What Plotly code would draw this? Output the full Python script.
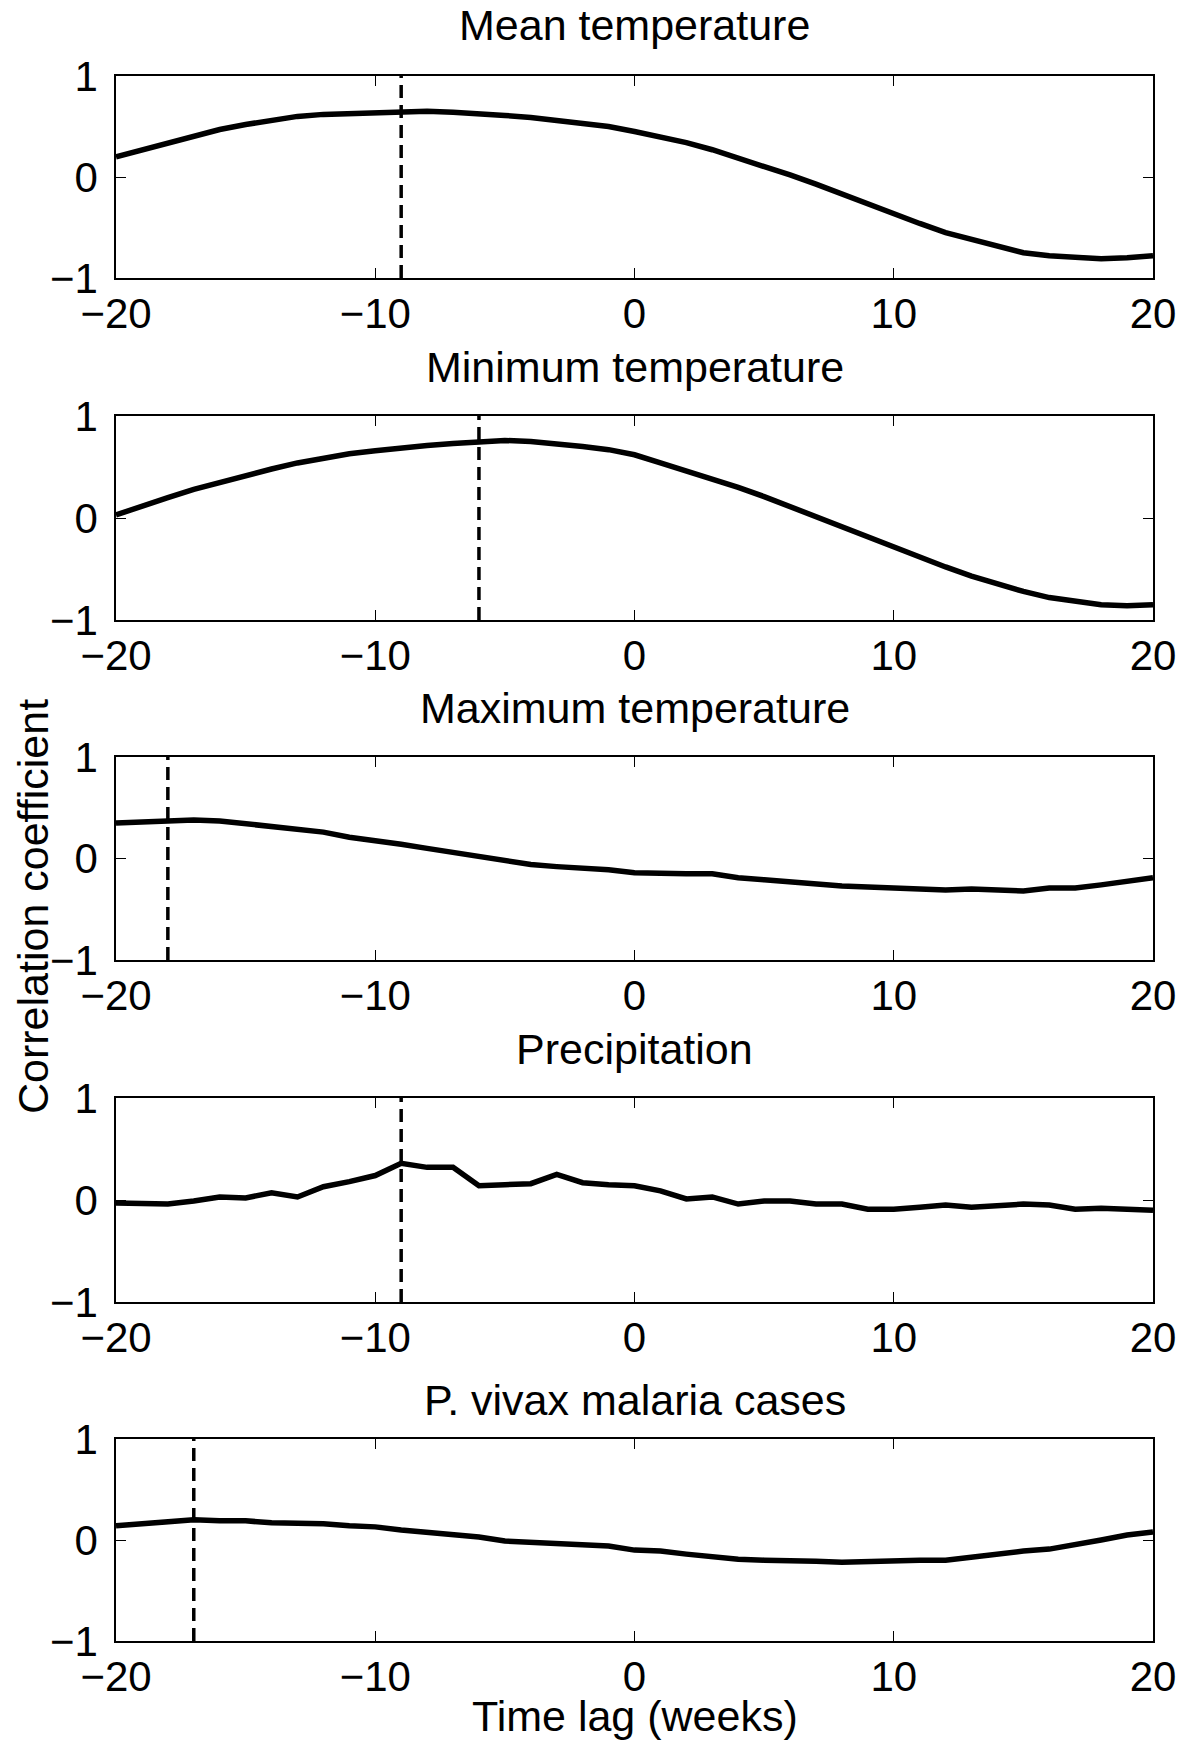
import plotly.graph_objects as go

lags = list(range(-20, 21))

titles = ["Mean temperature", "Minimum temperature", "Maximum temperature",
          "Precipitation", "P. vivax malaria cases"]

mean_temp = [0.20, 0.27, 0.34, 0.41, 0.47, 0.52, 0.56, 0.60, 0.62, 0.63,
             0.64, 0.65, 0.65, 0.64, 0.63, 0.61, 0.59, 0.56, 0.53, 0.50,
             0.45, 0.40, 0.34, 0.27, 0.19, 0.10, 0.02, -0.07, -0.17, -0.27,
             -0.36, -0.46, -0.55, -0.62, -0.69, -0.75, -0.78, -0.80, -0.81, -0.80,
             -0.78]

min_temp = [0.03, 0.12, 0.20, 0.28, 0.35, 0.42, 0.48, 0.54, 0.59, 0.63,
            0.66, 0.69, 0.71, 0.73, 0.75, 0.76, 0.75, 0.73, 0.70, 0.67,
            0.62, 0.54, 0.46, 0.39, 0.30, 0.21, 0.11, 0.01, -0.09, -0.19,
            -0.29, -0.39, -0.48, -0.57, -0.65, -0.72, -0.78, -0.82, -0.85, -0.86,
            -0.85]

max_temp = [0.35, 0.36, 0.38, 0.38, 0.37, 0.34, 0.31, 0.29, 0.26, 0.21,
            0.18, 0.14, 0.10, 0.06, 0.03, -0.01, -0.06, -0.08, -0.09, -0.11,
            -0.14, -0.15, -0.15, -0.15, -0.19, -0.21, -0.23, -0.26, -0.27, -0.28,
            -0.29, -0.31, -0.31, -0.30, -0.31, -0.32, -0.29, -0.29, -0.26, -0.22,
            -0.19]

precip = [-0.03, -0.03, -0.04, -0.01, 0.03, 0.02, 0.07, 0.03, 0.13, 0.18,
          0.24, 0.36, 0.32, 0.32, 0.14, 0.15, 0.16, 0.25, 0.17, 0.15,
          0.14, 0.09, 0.01, 0.03, -0.04, -0.01, -0.01, -0.04, -0.04, -0.09,
          -0.09, -0.07, -0.05, -0.07, -0.06, -0.04, -0.05, -0.09, -0.08, -0.09,
          -0.10]

vivax = [0.14, 0.16, 0.19, 0.20, 0.19, 0.19, 0.17, 0.17, 0.16, 0.14,
         0.13, 0.10, 0.08, 0.06, 0.03, -0.01, -0.02, -0.03, -0.04, -0.06,
         -0.10, -0.11, -0.14, -0.17, -0.19, -0.20, -0.20, -0.21, -0.22, -0.21,
         -0.20, -0.20, -0.20, -0.17, -0.13, -0.11, -0.09, -0.05, 0.00, 0.05,
         0.08]

peak_lags = [-9, -6, -18, -9, -17]

x_ticks = [-20, -10, 0, 10, 20]
y_ticks = [-1, 0, 1]

series = [mean_temp, min_temp, max_temp, precip, vivax]

W, H = 1200, 1751
OFF = 8  # page body margin
x_left, x_right = 116 - OFF, 1153 - OFF
panel_px = [(76, 278), (416, 620), (757, 960), (1098, 1302), (1439, 1641)]
title_px = [25, 367, 708, 1049, 1400]

FONT = "Liberation Sans, Arial, Helvetica, sans-serif"

fig = go.Figure()
layout = dict(
    template="none",
    width=W, height=H,
    margin=dict(l=0, r=0, t=0, b=0, pad=0, autoexpand=False),
    paper_bgcolor="white", plot_bgcolor="white",
    showlegend=False,
    font=dict(family=FONT, size=42, color="black"),
)

annotations = []
for i, (vals, title, pk) in enumerate(zip(series, titles, peak_lags)):
    n = i + 1
    xa = "x" if n == 1 else f"x{n}"
    ya = "y" if n == 1 else f"y{n}"
    fig.add_trace(go.Scatter(x=lags, y=vals, mode="lines",
                             line=dict(color="black", width=5.5),
                             xaxis=xa, yaxis=ya))
    fig.add_trace(go.Scatter(x=[pk, pk], y=[-1, 1], mode="lines",
                             line=dict(color="black", width=3.5, dash="13px,7px"),
                             xaxis=xa, yaxis=ya))
    top, bot = panel_px[i]
    top -= OFF
    bot -= OFF
    axis_common = dict(showline=True, linecolor="black", linewidth=1.5,
                       mirror="allticks", ticks="inside", ticklen=10,
                       tickwidth=1.2, tickcolor="black", showgrid=False,
                       zeroline=False, automargin=False,
                       tickfont=dict(family=FONT, size=42, color="black"))
    layout["xaxis" if n == 1 else f"xaxis{n}"] = dict(
        domain=[x_left / W, x_right / W], range=[-20, 20],
        tickmode="array", tickvals=x_ticks, anchor=ya,
        ticklabelstandoff=-2, **axis_common)
    layout["yaxis" if n == 1 else f"yaxis{n}"] = dict(
        domain=[1 - bot / H, 1 - top / H], range=[-1, 1],
        tickmode="array", tickvals=y_ticks, anchor=xa,
        ticklabelstandoff=8, **axis_common)
    annotations.append(dict(text=title, x=(x_left + x_right) / 2 / W,
                            y=1 - (title_px[i] - OFF) / H, xref="paper", yref="paper",
                            xanchor="center", yanchor="middle", showarrow=False,
                            font=dict(family=FONT, size=43, color="black")))

annotations.append(dict(text="Correlation coefficient", x=(33 - OFF) / W,
                        y=1 - (907 - OFF) / H,
                        xref="paper", yref="paper", xanchor="center", yanchor="middle",
                        textangle=-90, showarrow=False,
                        font=dict(family=FONT, size=43, color="black")))
annotations.append(dict(text="Time lag (weeks)", x=(x_left + x_right) / 2 / W,
                        y=1 - (1716 - OFF) / H, xref="paper", yref="paper",
                        xanchor="center", yanchor="middle", showarrow=False,
                        font=dict(family=FONT, size=43, color="black")))
layout["annotations"] = annotations

fig.update_layout(**layout)
fig.write_html("out.html")
